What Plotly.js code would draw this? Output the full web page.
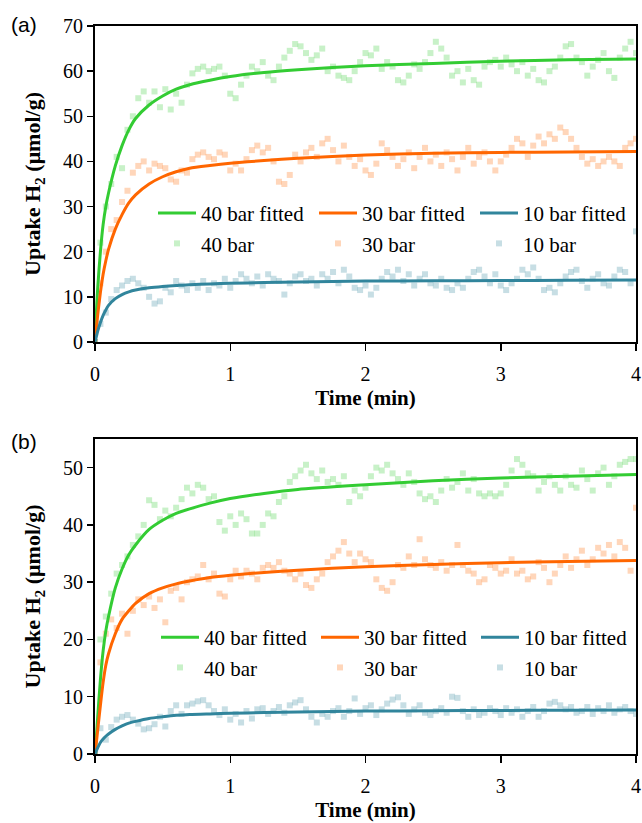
<!DOCTYPE html>
<html>
<head>
<meta charset="utf-8">
<script src="https://cdn.plot.ly/plotly-3.0.1.min.js"></script>
<style>html,body{margin:0;padding:0;background:#fff;}#chart{width:642px;height:823px;}</style>
</head>
<body>
<div id="chart"></div>
<script>
// ---- measured time axis (min) ----
var time = [0,0.04,0.08,0.12,0.16,0.2,0.24,0.28,0.32,0.36,0.4,0.44,0.48,0.52,0.56,0.6,0.64,0.68,0.72,0.76,0.8,0.84,0.88,0.92,0.96,
1,1.04,1.08,1.12,1.16,1.2,1.24,1.28,1.32,1.36,1.4,1.44,1.48,1.52,1.56,1.6,1.64,1.68,1.72,1.76,1.8,1.84,1.88,1.92,1.96,
2,2.04,2.08,2.12,2.16,2.2,2.24,2.28,2.32,2.36,2.4,2.44,2.48,2.52,2.56,2.6,2.64,2.68,2.72,2.76,2.8,2.84,2.88,2.92,2.96,
3,3.04,3.08,3.12,3.16,3.2,3.24,3.28,3.32,3.36,3.4,3.44,3.48,3.52,3.56,3.6,3.64,3.68,3.72,3.76,3.8,3.84,3.88,3.92,3.96,
4];

// ---- panel (a) measured uptake ----
var a40 = [0,22,30,35,41,38.5,47,50,54,55.5,53,55.5,52,56,51.5,55,53,57,59.5,60.5,61,60,60.5,61,59,
55,54,57,59,61,60,62,59,58,61,63,64.5,66,65.5,64,62.5,63.5,65,60,61,59,58.5,58,60,62,
64,63.5,65,60.5,62,61,58,57.5,59,61.5,60.5,62,64,66.5,65,63,59,60,57.5,60.5,58,57,61,62,62.5,
61,63,61.5,60,62,59,60.5,58,57.5,60,61,63,65.5,66,63,62,59,61,62.5,64,60,58.5,63,65,66.5,
64];
var a30 = [0,13,20,25,27,31,33.5,37.5,39,40,38,39.5,39,38.5,36,35.5,38,37.5,40.5,41.5,42,41,40.5,42,41.5,
38,39.5,38,40.5,42.5,43.5,42,43,40,35.5,35,37,41.5,40,42,43,41,44,45,42.5,40,43.5,41,39,40.5,
38,37,39.5,44,42.5,41,39,40.5,42,38.5,41,43,40,41.5,39,42,40.5,38,41,43,39.5,41,42,40,38,
40,41.5,43,45,44,41,43.5,45.5,44,46,45,47.5,46.5,45,43,41,39.5,40.5,39,40,41,40,39,43,44,
45];
var a10 = [0,4,6.5,9.5,11.5,12.5,13.5,14,13,12,10,8.5,9,12,11,13.5,12.5,11.5,13,12,13.5,11.5,13,12.5,14,
12,13.5,15,14,13,14.5,12.5,15,14,13.5,10.5,13,14.5,15,13.5,14,12.5,15,14,15.5,13,16,14.5,12,11.5,
12.5,10.5,12,14,15.5,14.5,16,13.5,15,12.5,14,15,13,12.5,14,12,11.5,13,12,14,15.5,16,14.5,13,15,
12.5,11.5,13,14,16,15,16.5,14,11.5,12,11,13,14.5,15.5,16,13.5,12,14,15,13,12.5,14.5,16,15.5,13,
24.5];

// ---- panel (b) measured uptake ----
var b40 = [0,20,24,28,31.5,33,34.5,36.5,38,40,44.3,43.5,41,42.5,41.5,43,44.5,46.5,45.5,47,46.5,44.5,45,40.5,39,
41.5,40,42,41,38.5,38.5,40,42,41.5,44,45,47.5,48.5,49.5,50.5,49,48,49.5,47.5,48,47,48.5,44,46,45,
46.5,48.5,50,49.5,50.5,49,48,47,49,47.5,45.5,44.5,45,44,46,48,46.5,47.5,49,46,48,45.5,45,45.5,45,
45.5,47,49.5,51.5,50.5,49,48.5,46,47.5,48.5,47,46,48.5,47,46.5,49.5,48,46,49,50,47,48.5,50.5,51,51.5,
51.5];
var b30 = [0,16,21,23.5,22,24.5,21,25,27,26,27.5,25.5,27,23,28.5,29,27,30,30.5,31,33,30.5,31.5,28,27.5,
30.5,32,31,32,31.5,30.5,32.5,33,32.5,33.5,32,31.5,30.5,31.5,29.5,29,30.5,31.5,33.5,34.5,35.5,37,35,33.5,35,
34,33.5,30.5,29,28.5,30,33,32.5,34.5,33,37.5,34,33,32.5,33.5,32,33,36.5,33,32,31.5,30,30.5,33,32.5,
31.5,32,34,31.5,32,30.5,31,33.5,32.5,30,31.5,33,34.5,32.5,34,35.5,33,34,36,35,36.5,34.5,37,36,32,
43];
var b10 = [0,4.5,2.5,4.7,6,6.5,6.8,6,5.3,4.3,4.5,5.2,6.5,4.8,7.5,8.5,7,8.5,8.8,9.2,9.4,8.5,7.5,6.8,7.8,
6,7,5.5,7.5,6.2,7.8,8,7,7.5,8.2,7.2,8.5,9,9.4,7.8,6.5,5.5,7,6.5,7.5,8,6.5,7.5,9.7,7,
8,8.5,6.8,7.8,8.8,9.5,9.9,8.5,7,7.8,8.5,7.2,6.8,7.5,8,7.2,10,9.8,7.5,6.5,7.8,6.8,7.2,8,7.5,
6.8,8,7.2,7.8,6.5,7.5,8.2,6.5,7.5,8.8,9.1,8.5,7.8,8.2,7.2,7.5,8.2,7,8,7.5,8.5,7.2,7.8,8.2,7.5,
7];

// ---- fitted curves ----
var fitTime = [0,0.01,0.02,0.04,0.06,0.08,0.1,0.15,0.2,0.25,0.3,0.4,0.5,0.6,0.7,0.85,1,1.25,1.5,2,2.5,3,3.5,4];
var a40fit = [0,6.5,12,20,26,30,33,39,43.5,47,49.5,52.5,54.5,56,57,58,58.8,59.7,60.3,61.2,61.7,62.2,62.5,62.7];
var a30fit = [0,3,6,11,15,18,20.5,25,28.2,30.8,32.6,35,36.6,37.7,38.5,39.1,39.6,40.2,40.7,41.4,41.8,42,42.1,42.2];
var a10fit = [0,1.2,2.4,4.3,5.9,7.1,8.1,9.6,10.5,11.1,11.5,12,12.3,12.5,12.7,12.85,13,13.15,13.3,13.5,13.55,13.6,13.65,13.7];
var b40fit = [0,3,6.5,13,18,21.5,24,29,32.3,34.8,36.5,39.2,40.8,42,42.8,43.8,44.6,45.5,46.2,47,47.7,48.2,48.5,48.8];
var b30fit = [0,2,4.2,8.5,12.5,15.5,17.5,21,23.5,25,26.3,28,29,29.7,30.2,30.8,31.2,31.7,32.1,32.7,33.1,33.4,33.6,33.8];
var b10fit = [0,0.6,1.1,2,2.6,3.1,3.5,4.3,4.9,5.4,5.7,6.2,6.5,6.75,6.9,7,7.1,7.25,7.35,7.5,7.55,7.6,7.65,7.7];

var seriesNames = ['40 bar', '30 bar', '10 bar'];
var lineColors = ['#33cc33', '#ff6600', '#31859c'];
var markColors = ['rgba(51,204,51,0.27)', 'rgba(255,102,0,0.27)', 'rgba(49,133,156,0.27)'];

var serif = 'Liberation Serif';

function panelTraces(pts, fits, xa, ya, leg) {
  var tr = [];
  for (var i = 0; i < 3; i++) {
    tr.push({x: time, y: pts[i], type: 'scatter', mode: 'markers', name: seriesNames[i],
      xaxis: xa, yaxis: ya, legend: leg, legendrank: 4 + i,
      marker: {symbol: 'square', size: 6, color: markColors[i], line: {width: 0}}});
  }
  for (var j = 0; j < 3; j++) {
    tr.push({x: fitTime, y: fits[j], type: 'scatter', mode: 'lines', name: seriesNames[j] + ' fitted',
      xaxis: xa, yaxis: ya, legend: leg, legendrank: 1 + j,
      line: {color: lineColors[j], width: 3, shape: 'spline', smoothing: 0.6}});
  }
  return tr;
}

var data = panelTraces([a40, a30, a10], [a40fit, a30fit, a10fit], 'x', 'y', 'legend')
  .concat(panelTraces([b40, b30, b10], [b40fit, b30fit, b10fit], 'x2', 'y2', 'legend2'));

function xAxis(anchor) {
  return {domain: [0, 1], anchor: anchor, range: [0, 4], dtick: 1, tick0: 0,
    showline: true, linecolor: '#000', linewidth: 2, mirror: true,
    ticks: 'outside', ticklen: 7, tickwidth: 1.5, tickcolor: '#000',
    ticklabelstandoff: 6,
    showgrid: false, zeroline: false, fixedrange: true,
    tickfont: {family: serif, size: 20, color: '#000'},
    title: {text: '<b>Time (min)</b>', standoff: 6, font: {family: serif, size: 21, color: '#000'}}};
}
function yAxis(anchor, dom, rng) {
  return {domain: dom, anchor: anchor, range: rng, dtick: 10, tick0: 0,
    showline: true, linecolor: '#000', linewidth: 2, mirror: true,
    ticks: 'outside', ticklen: 6, tickwidth: 1.5, tickcolor: '#000',
    showgrid: false, zeroline: false, fixedrange: true,
    tickfont: {family: serif, size: 20, color: '#000'},
    title: {text: '<b>Uptake H<sub>2</sub> (μmol/g)</b>', standoff: 16, font: {family: serif, size: 22, color: '#000'}}};
}

var legFont = {family: serif, size: 21, color: '#000'};
var layout = {
  width: 642, height: 823,
  margin: {l: 95, r: 6, t: 26, b: 69, pad: 0},
  paper_bgcolor: '#fff', plot_bgcolor: '#fff',
  showlegend: true,
  xaxis: xAxis('y'),
  yaxis: yAxis('x', [0.566, 1], [0, 70]),
  xaxis2: xAxis('y2'),
  yaxis2: yAxis('x2', [0, 0.4327], [0, 55]),
  legend: {orientation: 'h', x: 1, xanchor: 'right', y: 0.7707, yanchor: 'top',
    bgcolor: 'rgba(0,0,0,0)', borderwidth: 0, font: legFont, itemwidth: 38,
    entrywidth: 108, entrywidthmode: 'pixels', traceorder: 'normal'},
  legend2: {orientation: 'h', x: 1, xanchor: 'right', y: 0.1882, yanchor: 'top',
    bgcolor: 'rgba(0,0,0,0)', borderwidth: 0, font: legFont, itemwidth: 38,
    entrywidth: 107, entrywidthmode: 'pixels', traceorder: 'normal'},
  annotations: [
    {text: '(a)', xref: 'paper', yref: 'paper', x: -0.159, y: 1.0014, xanchor: 'left', yanchor: 'middle',
      showarrow: false, font: {family: 'Liberation Sans', size: 21, color: '#000'}},
    {text: '(b)', xref: 'paper', yref: 'paper', x: -0.159, y: 0.4299, xanchor: 'left', yanchor: 'middle',
      showarrow: false, font: {family: 'Liberation Sans', size: 21, color: '#000'}}
  ]
};

Plotly.newPlot('chart', data, layout, {staticPlot: true, displayModeBar: false});
</script>
</body>
</html>
